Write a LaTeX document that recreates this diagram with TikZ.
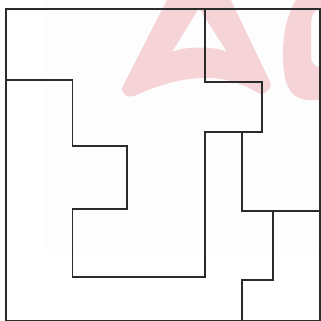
\documentclass[tikz,border=0pt]{standalone}
\usepackage{tikz}
\usetikzlibrary{calc}
\definecolor{Ink}{HTML}{2B2B2B}
\definecolor{Mark}{HTML}{F6D3D7}
\definecolor{Haze}{HTML}{FDFDFD}

\begin{document}
\begin{tikzpicture}[x=1pt, y=-1pt, wall/.style={Ink, line width=1.8pt, line join=miter}]
  \useasboundingbox (0,0) rectangle (321,321);
  \clip (0,0) rectangle (321,321);

  % background wash and watermark
  \fill[Haze] (46,0) rectangle (321,254);
  \fill[Mark, even odd rule, rounded corners=4pt]
    (122,88) -- (170,-6) -- (228,-6) -- (272,86)
    [sharp corners] .. controls (266,92) and (262,96) .. (258,93)
    .. controls (240,82) and (222,77) .. (200,78)
    .. controls (178,79) and (156,86) .. (134,96)
    .. controls (128,98) and (122,95) .. (122,88) -- cycle
    (172,52) -- (199,8) -- (227,52)
    .. controls (216,46) and (184,46) .. (172,52) -- cycle;
  \fill[Mark, even odd rule]
    (300,-6) .. controls (288,10) and (283,30) .. (283,55)
    .. controls (283,85) and (290,100) .. (310,100) -- (330,100) -- (330,-6) -- cycle
    (330,10) -- (319,10) .. controls (314,10) and (311,15) .. (311,25)
    -- (311,55) .. controls (311,63) and (314,67) .. (320,67) -- (330,67) -- cycle;

  % outer frame
  \draw[wall] (6,9) rectangle (320,320.5);

  % region borders
  \draw[wall] (6,80) -- (72.5,80) -- (72.5,145.7) -- (127,145.7) -- (127,209)
    -- (72.5,209) -- (72.5,277.3) -- (204.6,277.3) -- (204.6,132.3)
    -- (262.3,132.3) -- (262.3,81.7) -- (204.6,81.7) -- (204.6,9);
  \draw[wall] (241.8,132.3) -- (241.8,210.7) -- (320,210.7);
  \draw[wall] (273.3,210.7) -- (273.3,280) -- (241.8,280) -- (241.8,320.5);
\end{tikzpicture}
\end{document}
